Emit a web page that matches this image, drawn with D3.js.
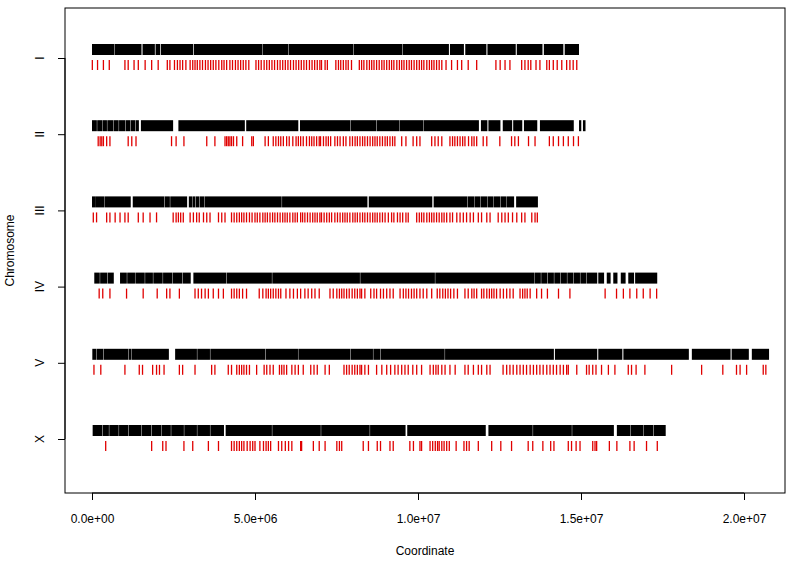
<!DOCTYPE html>
<html><head><meta charset="utf-8">
<script src="https://cdn.jsdelivr.net/npm/d3@7"></script>
<style>body{margin:0;background:#fff}svg{display:block}text{font-family:"Liberation Sans",Arial,sans-serif}</style>
</head><body><svg id="c" width="797" height="562"></svg>
<script>
// Chromosome names (top to bottom)
const chromosomes = ["I","II","III","IV","V","X"];
// X axis ticks (positions in Mb) and labels
const xTickValues = [0,5,10,15,20];
const xTickLabels = ["0.0e+00","5.0e+06","1.0e+07","1.5e+07","2.0e+07"];

// Black (upper) tracks: covered runs [start,end] in Mb
const blackI = [[0,0.67],[0.70,1.50],[1.55,1.91],[1.95,2.07],[2.11,3.08],[3.12,5.2],[5.23,6.0],[6.03,8.0],[8.03,9.5],[9.53,10.93],[10.98,11.39],[11.45,12.08],[12.13,12.98],[13.03,13.80],[13.86,14.44],[14.50,14.92]];
const blackII = [[0,0.13],[0.16,0.29],[0.32,0.44],[0.47,0.63],[0.66,0.80],[0.83,1.00],[1.03,1.16],[1.19,1.31],[1.34,1.42],[1.50,2.47],[2.65,4.67],[4.73,6.31],[6.38,7.9],[7.93,8.7],[8.73,9.4],[9.43,10.15],[10.18,11.85],[11.93,12.11],[12.16,12.51],[12.60,12.87],[12.92,13.18],[13.25,13.64],[13.74,14.76],[14.94,14.99],[15.06,15.12]];
const blackIII = [[0,0.1],[0.12,0.35],[0.38,1.17],[1.25,2.2],[2.23,2.37],[2.40,2.90],[2.97,3.05],[3.08,3.15],[3.18,3.27],[3.30,3.42],[3.45,5.8],[5.83,8.43],[8.49,10.42],[10.48,11.49],[11.52,11.7],[11.73,11.9],[11.93,12.1],[12.13,12.3],[12.33,12.5],[12.53,12.7],[12.73,12.93],[13.01,13.66]];
const blackIV = [[0.07,0.22],[0.25,0.45],[0.48,0.65],[0.86,1.05],[1.08,1.3],[1.33,1.6],[1.63,1.85],[1.88,2.15],[2.18,2.45],[2.48,2.75],[2.78,3.01],[3.11,4.1],[4.13,5.5],[5.53,8.2],[8.23,10.5],[10.53,13.54],[13.57,13.75],[13.78,13.95],[13.98,14.15],[14.18,14.35],[14.38,14.55],[14.58,14.75],[14.78,14.95],[14.98,15.15],[15.18,15.48],[15.53,15.69],[15.79,15.89],[15.99,16.10],[16.22,16.35],[16.45,16.61],[16.66,17.32]];
const blackV = [[0.01,0.12],[0.15,0.33],[0.36,1.1],[1.13,1.18],[1.21,2.34],[2.55,3.2],[3.23,3.6],[3.63,5.3],[5.33,6.3],[6.33,7.9],[7.93,8.6],[8.63,8.82],[8.85,10.8],[10.83,14.15],[14.20,15.48],[15.53,16.25],[16.30,18.29],[18.40,19.57],[19.62,20.13],[20.24,20.75]];
const blackX = [[0.02,0.3],[0.33,0.5],[0.53,0.8],[0.83,1.1],[1.13,1.5],[1.53,1.8],[1.83,2.1],[2.13,2.4],[2.43,2.8],[2.83,3.2],[3.23,3.6],[3.63,4.03],[4.10,5.5],[5.53,7.0],[7.03,8.5],[8.53,9.60],[9.67,12.06],[12.16,13.5],[13.53,14.7],[14.73,15.99],[16.10,16.5],[16.53,16.9],[16.93,17.2],[17.23,17.58]];

// Red (lower) tracks: individual positions in Mb
const redI = [0.01,0.17,0.35,0.53,1.01,1.11,1.29,1.42,1.63,1.83,2.03,2.31,2.39,2.53,2.62,2.70,2.78,2.88,3.01,3.09,3.16,3.23,3.31,3.39,3.48,3.56,3.64,3.72,3.80,3.89,3.98,4.05,4.13,4.23,4.31,4.40,4.48,4.56,4.64,4.72,4.81,5.03,5.11,5.19,5.28,5.36,5.44,5.52,5.60,5.69,5.77,5.85,5.93,6.01,6.09,6.18,6.26,6.34,6.42,6.50,6.58,6.67,6.75,6.83,6.91,6.99,7.04,7.15,7.22,7.48,7.56,7.63,7.71,7.79,7.86,7.96,8.20,8.27,8.34,8.43,8.51,8.58,8.65,8.73,8.81,8.89,8.96,9.04,9.12,9.19,9.26,9.35,9.43,9.50,9.57,9.65,9.73,9.80,9.88,9.96,10.04,10.11,10.18,10.27,10.35,10.42,10.49,10.57,10.65,10.73,10.86,11.03,11.21,11.34,11.54,11.80,12.39,12.52,12.67,12.82,13.18,13.28,13.38,13.46,13.62,13.74,13.95,14.03,14.15,14.27,14.41,14.56,14.66,14.76,14.87];
const redII = [0.19,0.25,0.30,0.35,0.45,0.55,1.11,1.22,1.35,2.44,2.58,2.82,3.52,3.77,4.08,4.13,4.18,4.23,4.28,4.34,4.44,4.62,4.90,4.95,5.31,5.41,5.56,5.64,5.72,5.79,5.87,5.97,6.05,6.16,6.26,6.33,6.40,6.48,6.58,6.67,6.74,6.81,6.89,6.97,7.01,7.10,7.18,7.25,7.32,7.45,7.53,7.61,7.71,7.79,7.91,7.99,8.07,8.14,8.22,8.30,8.37,8.45,8.53,8.61,8.68,8.75,8.83,8.91,8.99,9.06,9.14,9.22,9.29,9.50,9.63,9.85,9.96,10.06,10.42,10.52,10.62,10.73,10.98,11.06,11.13,11.21,11.29,11.37,11.44,11.55,11.65,11.72,11.80,12.00,12.11,12.51,12.87,12.97,13.08,13.39,13.59,14.03,14.15,14.31,14.46,14.61,14.77,14.92];
const redIII = [0.04,0.14,0.45,0.55,0.71,0.86,1.01,1.11,1.42,1.57,1.78,1.98,2.49,2.58,2.65,2.72,2.80,3.01,3.11,3.21,3.29,3.42,3.52,3.62,3.88,3.98,4.08,4.28,4.36,4.44,4.52,4.59,4.66,4.74,4.83,4.91,5.00,5.07,5.15,5.24,5.31,5.38,5.46,5.54,5.61,5.69,5.77,5.85,5.92,5.99,6.07,6.16,6.23,6.30,6.40,6.46,6.53,6.61,6.69,6.77,6.84,6.91,6.99,7.04,7.12,7.20,7.28,7.35,7.45,7.53,7.61,7.69,7.76,7.83,7.91,8.00,8.07,8.14,8.22,8.30,8.37,8.45,8.53,8.61,8.68,8.75,8.83,8.91,8.99,9.09,9.19,9.26,9.37,9.45,9.53,9.63,9.70,9.96,10.04,10.11,10.18,10.27,10.35,10.42,10.49,10.57,10.65,10.73,10.80,10.88,10.98,11.06,11.19,11.29,11.39,11.49,11.60,11.70,11.85,11.95,12.11,12.21,12.46,12.57,12.67,12.77,12.90,13.03,13.18,13.28,13.49,13.59,13.66];
const redIV = [0.22,0.33,0.55,1.06,1.57,2.00,2.29,2.39,2.68,3.16,3.26,3.36,3.47,3.57,3.72,3.88,4.03,4.28,4.36,4.44,4.52,4.62,4.74,5.13,5.24,5.34,5.41,5.48,5.56,5.64,5.72,5.79,5.95,6.07,6.18,6.30,6.40,6.53,6.63,6.74,6.84,6.97,7.30,7.40,7.51,7.59,7.66,7.73,7.81,7.89,7.98,8.06,8.14,8.22,8.27,8.37,8.55,8.65,8.73,8.85,8.94,9.04,9.14,9.24,9.45,9.55,9.63,9.71,9.80,9.88,9.96,10.06,10.16,10.27,10.42,10.59,10.67,10.76,10.84,10.92,11.00,11.10,11.21,11.44,11.54,11.65,11.72,11.80,11.95,12.02,12.11,12.19,12.26,12.33,12.41,12.52,12.62,12.72,12.82,12.92,13.13,13.21,13.28,13.35,13.44,13.64,13.79,13.97,14.31,14.66,15.74,16.09,16.30,16.50,16.71,16.91,17.12,17.32];
const redV = [0.06,0.27,1.01,1.45,1.55,1.86,1.98,2.07,2.21,2.68,2.78,3.16,3.67,3.77,4.18,4.28,4.44,4.52,4.59,4.66,4.74,4.83,5.05,5.28,5.36,5.46,5.56,5.75,5.82,5.89,5.97,6.13,6.23,6.33,6.48,6.71,6.81,6.91,7.15,7.28,7.73,7.81,7.89,7.98,8.06,8.14,8.22,8.27,8.37,8.48,8.73,8.89,9.04,9.16,9.29,9.39,9.50,9.60,9.70,9.84,9.96,10.11,10.37,10.47,10.55,10.62,10.73,10.83,10.98,11.14,11.44,11.54,11.70,11.85,11.95,12.11,12.21,12.61,12.72,12.82,12.92,13.03,13.13,13.23,13.33,13.44,13.54,13.64,13.74,13.84,13.95,14.05,14.15,14.25,14.36,14.46,14.56,14.61,14.87,15.17,15.25,15.36,15.46,15.63,15.84,16.04,16.45,16.55,16.69,16.96,17.78,18.70,19.35,19.77,19.88,20.08,20.59,20.67];
const redX = [0.42,1.83,2.17,2.27,2.82,3.09,3.57,3.88,4.28,4.36,4.44,4.52,4.59,4.66,4.76,4.85,4.93,5.00,5.15,5.26,5.34,5.41,5.48,5.72,5.82,5.93,6.03,6.13,6.40,6.43,6.79,6.97,7.15,7.51,7.59,7.66,8.32,8.48,8.75,8.85,9.14,9.24,9.75,9.86,10.06,10.11,10.37,10.45,10.53,10.60,10.65,10.73,10.80,10.88,10.96,11.17,11.41,11.49,11.57,11.85,12.26,12.54,12.87,13.38,13.52,13.83,14.07,14.17,14.61,14.71,14.85,14.97,15.36,15.43,15.48,15.87,16.10,16.50,16.63,17.01,17.34];

const blackTracks = [blackI,blackII,blackIII,blackIV,blackV,blackX];
const redTracks = [redI,redII,redIII,redIV,redV,redX];

const svg = d3.select("#c");
const box = {l:65, r:785, t:8, b:493};
const x = d3.scaleLinear().domain([0,20]).range([92,744]);
const y = d3.scalePoint().domain(chromosomes).range([58,439]);

chromosomes.forEach((c,i)=>{
  const yc = y(c);
  svg.append("g").selectAll("rect").data(blackTracks[i]).join("rect")
    .attr("x", d=>x(d[0])).attr("width", d=>Math.max(1, x(d[1])-x(d[0])+0.6))
    .attr("y", yc-14).attr("height", 11).attr("fill","#000");
  svg.append("g").selectAll("line").data(redTracks[i]).join("line")
    .attr("x1", d=>x(d)).attr("x2", d=>x(d))
    .attr("y1", yc+2).attr("y2", yc+12)
    .attr("stroke","#e00000").attr("stroke-width",1.3);
});

// box
svg.append("rect").attr("x",box.l).attr("y",box.t).attr("width",box.r-box.l).attr("height",box.b-box.t)
  .attr("fill","none").attr("stroke","#000").attr("stroke-width",1);

// x axis
const xa = svg.append("g").attr("transform",`translate(0,${box.b})`)
  .call(d3.axisBottom(x).tickValues(xTickValues).tickSize(7).tickPadding(14)
    .tickFormat((d,i)=>xTickLabels[i]));
xa.select(".domain").attr("d",`M${x(0)},0H${x(20)}`);
xa.selectAll("text").attr("font-size",12).attr("fill","#000").style("font-family","Liberation Sans, Arial, sans-serif");

// y axis
const ya = svg.append("g").attr("transform",`translate(${box.l},0)`)
  .call(d3.axisLeft(y).tickSize(7).tickPadding(0).tickFormat(""));
ya.select(".domain").attr("d",`M0,${y("I")}V${y("X")}`);
chromosomes.forEach(c=>{
  svg.append("text").attr("transform",`translate(${box.l-21},${y(c)}) rotate(-90)`)
    .attr("text-anchor","middle").attr("font-size",12).text(c);
});

svg.append("text").attr("x",(box.l+box.r)/2).attr("y",555).attr("text-anchor","middle")
  .attr("font-size",12).text("Coordinate");
svg.append("text").attr("transform",`translate(14,${(box.t+box.b)/2}) rotate(-90)`)
  .attr("text-anchor","middle").attr("font-size",12).text("Chromosome");
</script></body></html>
